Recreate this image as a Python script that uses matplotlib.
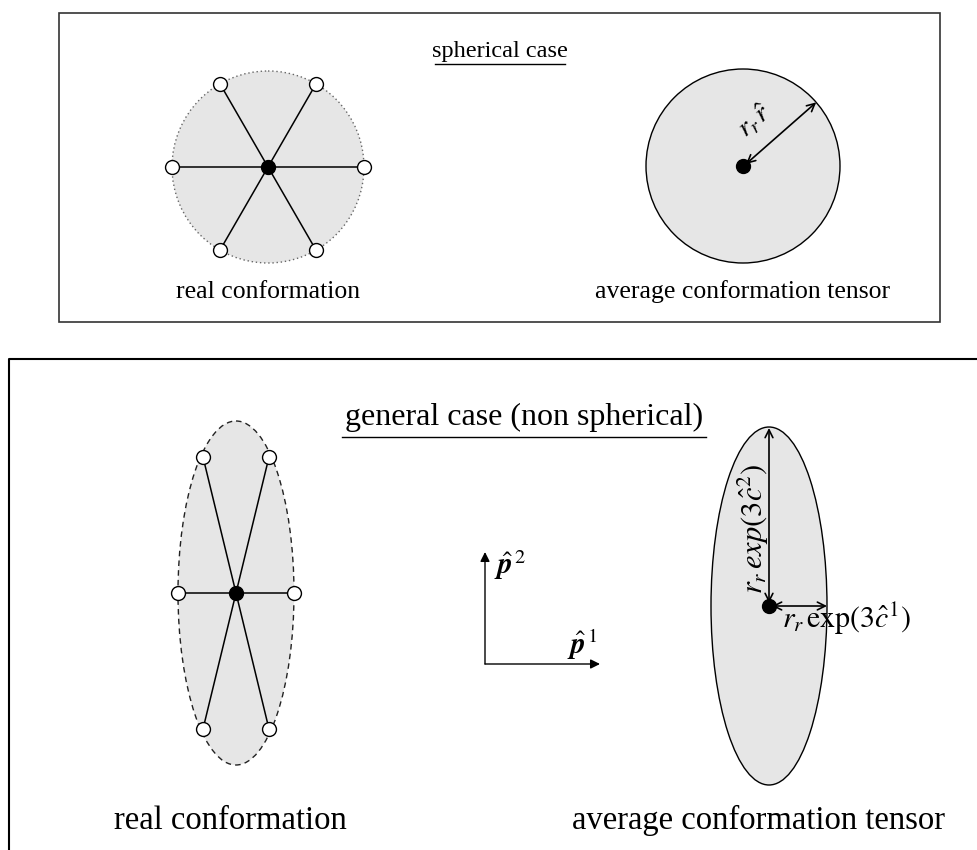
import numpy as np
import matplotlib.pyplot as plt
from matplotlib.patches import Ellipse, Rectangle

plt.rcParams['font.family'] = ['Liberation Serif', 'DejaVu Serif']
plt.rcParams['mathtext.fontset'] = 'stix'

# diagram pieces (pixel coords, y down)
top_title = "spherical case"
bottom_title = "general case (non spherical)"
left_label = "real conformation"
right_label = "average conformation tensor"

# spherical real conformation: six beads at 60 deg around a centre
sph_center = (268, 167)
sph_radius = 96
sph_angles = [0, 60, 120, 180, 240, 300]

# spherical tensor
sph_tensor_center = (743, 166)
sph_tensor_radius = 97
sph_arrow_angle = 41

# non spherical real conformation
ell_center = (236, 593)
ell_a, ell_b = 58, 172
ell_beads_dx = [58, 33, -33, -58, -33, 33]
ell_beads_dy = [0, -136, -136, 0, 136, 136]

# non spherical tensor
ten_center = (769, 606)
ten_a, ten_b = 58, 179

# basis vectors
basis_origin = (485, 664)
basis_len_x = 115
basis_len_y = 112

fill_col = "#e6e6e6"

fig = plt.figure(figsize=(9.77, 8.5), dpi=100)
ax = fig.add_axes([0, 0, 1, 1])
ax.set_xlim(0, 977)
ax.set_ylim(850, 0)
ax.set_aspect('equal')
ax.axis('off')

# frames
ax.add_patch(Rectangle((59, 13), 881, 309, fill=False, ec="#333333", lw=1.2))
ax.plot([9, 9, 977], [850, 359, 359], color="black", lw=1.5)

# titles with underline
ax.text(500, 57, top_title, ha='center', va='baseline', fontsize=17.5)
ax.plot([435, 565], [64, 64], color="black", lw=1.0)
ax.text(524, 425, bottom_title, ha='center', va='baseline', fontsize=23)
ax.plot([342, 706], [437, 437], color="black", lw=1.0)

# --- spherical real conformation
cx, cy = sph_center
ax.add_patch(Ellipse(sph_center, 2 * sph_radius, 2 * sph_radius, fc=fill_col,
                     ec="#666666", lw=1.0, ls=(0, (1, 2))))
for ang in sph_angles:
    bx = cx + sph_radius * np.cos(np.radians(ang))
    by = cy - sph_radius * np.sin(np.radians(ang))
    ax.plot([cx, bx], [cy, by], color="black", lw=1.1, zorder=3)
    ax.plot(bx, by, 'o', ms=10, mfc='white', mec='black', mew=1.0, zorder=4)
ax.plot(cx, cy, 'o', ms=10, color='black', zorder=5)
ax.text(cx, 298, left_label, ha='center', va='baseline', fontsize=18.5)

# --- spherical tensor
tx, ty = sph_tensor_center
ax.add_patch(Ellipse(sph_tensor_center, 2 * sph_tensor_radius, 2 * sph_tensor_radius,
                     fc=fill_col, ec="black", lw=1.0))
ax.plot(tx, ty, 'o', ms=10, color='black', zorder=5)
ex = tx + sph_tensor_radius * np.cos(np.radians(sph_arrow_angle))
ey = ty - sph_tensor_radius * np.sin(np.radians(sph_arrow_angle))
ax.annotate("", xy=(ex, ey), xytext=(tx + 3, ty - 2),
            arrowprops=dict(arrowstyle='<->', color='black', lw=1.2,
                            shrinkA=0, shrinkB=0, mutation_scale=14), zorder=6)
ax.text(755, 121, r"$r_r\,\hat{r}$", rotation=sph_arrow_angle, ha='center',
        va='center', fontsize=20, zorder=6)
ax.text(tx, 298, right_label, ha='center', va='baseline', fontsize=18.5)

# --- non spherical real conformation
ex0, ey0 = ell_center
ax.add_patch(Ellipse(ell_center, 2 * ell_a, 2 * ell_b, fc=fill_col,
                     ec="#222222", lw=1.0, ls=(0, (4, 3))))
for dx, dy in zip(ell_beads_dx, ell_beads_dy):
    ax.plot([ex0, ex0 + dx], [ey0, ey0 + dy], color="black", lw=1.1, zorder=3)
    ax.plot(ex0 + dx, ey0 + dy, 'o', ms=10, mfc='white', mec='black', mew=1.0, zorder=4)
ax.plot(ex0, ey0, 'o', ms=10, color='black', zorder=5)
ax.text(230, 829, left_label, ha='center', va='baseline', fontsize=23.5)

# --- basis vectors
ox, oy = basis_origin
ax.annotate("", xy=(ox + basis_len_x, oy), xytext=(ox, oy),
            arrowprops=dict(arrowstyle='-|>', color='black', lw=1.0,
                            shrinkA=0, shrinkB=0, mutation_scale=14))
ax.annotate("", xy=(ox, oy - basis_len_y), xytext=(ox, oy),
            arrowprops=dict(arrowstyle='-|>', color='black', lw=1.0,
                            shrinkA=0, shrinkB=0, mutation_scale=14))
ax.text(ox + 9, oy - 99, r"$\hat{\boldsymbol{p}}^{\,2}$", ha='left', va='center', fontsize=21)
ax.text(ox + 82, oy - 19, r"$\hat{\boldsymbol{p}}^{\,1}$", ha='left', va='center', fontsize=21)

# --- non spherical tensor
nx, ny = ten_center
ax.add_patch(Ellipse(ten_center, 2 * ten_a, 2 * ten_b, fc=fill_col, ec="black", lw=1.0))
ax.plot(nx, ny, 'o', ms=10, color='black', zorder=5)
ax.annotate("", xy=(nx, ny - ten_b + 1), xytext=(nx, ny - 3),
            arrowprops=dict(arrowstyle='<->', color='black', lw=1.2,
                            shrinkA=0, shrinkB=0, mutation_scale=14), zorder=6)
ax.annotate("", xy=(nx + ten_a, ny), xytext=(nx + 3, ny),
            arrowprops=dict(arrowstyle='<->', color='black', lw=1.2,
                            shrinkA=0, shrinkB=0, mutation_scale=14), zorder=6)
ax.text(nx - 16, 529, r"$r_r\,exp(3\hat{c}^2)$", rotation=90, ha='center',
        va='center', fontsize=22, zorder=6)
ax.text(nx + 13, 628, r"$r_r\,\mathrm{exp}(3\hat{c}^1)$", ha='left',
        va='baseline', fontsize=21.5, zorder=6)
ax.text(758, 829, right_label, ha='center', va='baseline', fontsize=23.5)

fig.savefig("out.png", dpi=100)
